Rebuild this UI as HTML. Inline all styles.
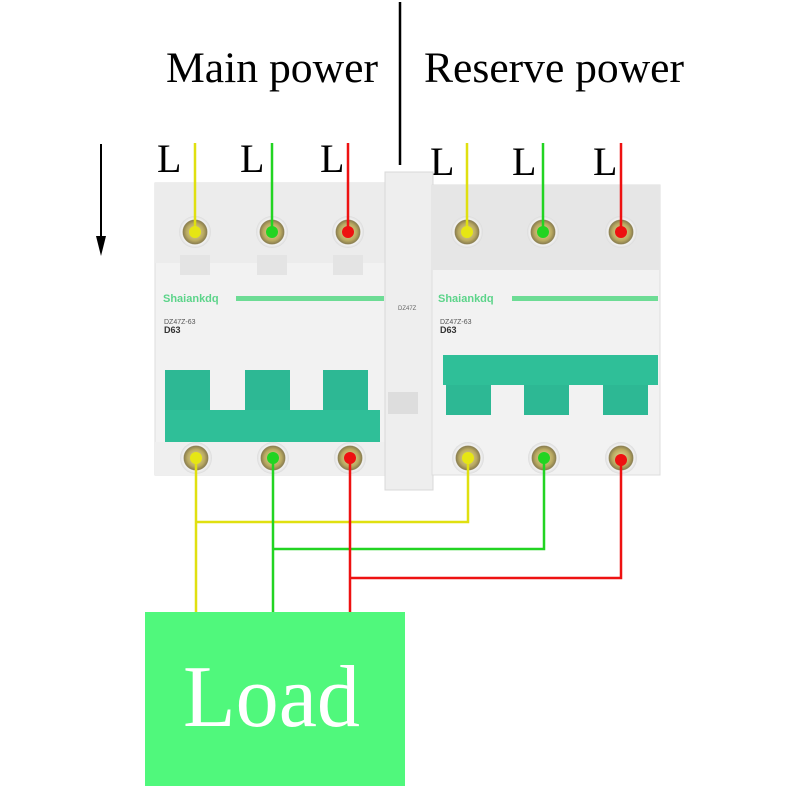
<!DOCTYPE html>
<html><head><style>html,body{margin:0;padding:0;background:#fff}svg{display:block}</style></head>
<body>
<svg width="800" height="800" viewBox="0 0 800 800" xmlns="http://www.w3.org/2000/svg" font-family="'Liberation Serif', serif">
<defs>
<radialGradient id="scr"><stop offset="0" stop-color="#e8e0a0"/><stop offset="0.55" stop-color="#b8a860"/><stop offset="0.75" stop-color="#8a7e50"/><stop offset="0.8" stop-color="#f4f4f4"/><stop offset="1" stop-color="#dcdcdc"/></radialGradient>
</defs>
<text x="166" y="82" font-size="43" fill="#000" textLength="212" lengthAdjust="spacingAndGlyphs">Main power</text>
<text x="424" y="82" font-size="43" fill="#000" textLength="260" lengthAdjust="spacingAndGlyphs">Reserve power</text>
<line x1="400" y1="2" x2="400" y2="165" stroke="#000" stroke-width="2.5"/>
<line x1="101" y1="144" x2="101" y2="240" stroke="#000" stroke-width="2"/>
<polygon points="96,236 106,236 101,256" fill="#000"/>
<g font-size="40" fill="#000">
<text x="157" y="172">L</text><text x="240" y="172">L</text><text x="320" y="172">L</text>
<text x="430" y="175">L</text><text x="512" y="175">L</text><text x="593" y="175">L</text>
</g>
<!-- left breaker -->
<rect x="155" y="183" width="232" height="292" fill="#f2f2f2" stroke="#ddd"/>
<rect x="155" y="183" width="232" height="80" fill="#ececec"/>
<rect x="180" y="255" width="30" height="20" fill="#e4e4e4"/><rect x="257" y="255" width="30" height="20" fill="#e4e4e4"/><rect x="333" y="255" width="30" height="20" fill="#e4e4e4"/>
<text x="163" y="302" font-family="'Liberation Sans',sans-serif" font-size="11" font-weight="bold" fill="#5cd48a">Shaiankdq</text>
<rect x="236" y="296" width="148" height="5" fill="#6ddc95"/>
<text x="164" y="324" font-family="'Liberation Sans',sans-serif" font-size="7" fill="#555">DZ47Z-63</text>
<text x="164" y="333" font-family="'Liberation Sans',sans-serif" font-size="9" font-weight="bold" fill="#333">D63</text>
<rect x="165" y="370" width="45" height="45" fill="#2db894"/><rect x="245" y="370" width="45" height="45" fill="#2db894"/><rect x="323" y="370" width="45" height="45" fill="#2db894"/>
<rect x="165" y="410" width="215" height="33" fill="#2fbf98"/>
<rect x="155" y="442" width="232" height="33" fill="#efefef"/>
<!-- middle -->
<rect x="385" y="172" width="48" height="318" fill="#eeeeee" stroke="#d8d8d8"/>
<rect x="388" y="392" width="30" height="22" fill="#ddd"/>
<text x="398" y="310" font-family="'Liberation Sans',sans-serif" font-size="6" fill="#666">DZ47Z</text>
<!-- right breaker -->
<rect x="432" y="185" width="228" height="290" fill="#f2f2f2" stroke="#ddd"/>
<rect x="432" y="185" width="228" height="85" fill="#e6e6e6"/>
<text x="438" y="302" font-family="'Liberation Sans',sans-serif" font-size="11" font-weight="bold" fill="#5cd48a">Shaiankdq</text>
<rect x="512" y="296" width="146" height="5" fill="#6ddc95"/>
<text x="440" y="324" font-family="'Liberation Sans',sans-serif" font-size="7" fill="#555">DZ47Z-63</text>
<text x="440" y="333" font-family="'Liberation Sans',sans-serif" font-size="9" font-weight="bold" fill="#333">D63</text>
<rect x="443" y="355" width="215" height="30" fill="#2fbf98"/>
<rect x="446" y="385" width="45" height="30" fill="#2db894"/><rect x="524" y="385" width="45" height="30" fill="#2db894"/><rect x="603" y="385" width="45" height="30" fill="#2db894"/>
<!-- terminals -->
<g>
<circle cx="195" cy="232" r="16" fill="url(#scr)"/><circle cx="272" cy="232" r="16" fill="url(#scr)"/><circle cx="348" cy="232" r="16" fill="url(#scr)"/>
<circle cx="467" cy="232" r="16" fill="url(#scr)"/><circle cx="543" cy="232" r="16" fill="url(#scr)"/><circle cx="621" cy="232" r="16" fill="url(#scr)"/>
<circle cx="196" cy="458" r="16" fill="url(#scr)"/><circle cx="273" cy="458" r="16" fill="url(#scr)"/><circle cx="350" cy="458" r="16" fill="url(#scr)"/>
<circle cx="468" cy="458" r="16" fill="url(#scr)"/><circle cx="544" cy="458" r="16" fill="url(#scr)"/><circle cx="621" cy="458" r="16" fill="url(#scr)"/>
</g>
<g stroke-width="2.5" fill="none">
<polyline points="195,143 195,232" stroke="#e0e010"/><polyline points="272,143 272,232" stroke="#22d422"/><polyline points="348,143 348,232" stroke="#ee1111"/>
<polyline points="467,143 467,232" stroke="#e0e010"/><polyline points="543,143 543,232" stroke="#22d422"/><polyline points="621,143 621,232" stroke="#ee1111"/>
<polyline points="196,458 196,612" stroke="#e0e010"/><polyline points="196,522 468,522 468,458" stroke="#e0e010"/>
<polyline points="273,458 273,612" stroke="#22d422"/><polyline points="273,549 544,549 544,458" stroke="#22d422"/>
<polyline points="350,458 350,612" stroke="#ee1111"/><polyline points="350,578 621,578 621,458" stroke="#ee1111"/>
</g>
<g>
<circle cx="195" cy="232" r="6" fill="#e6e614"/><circle cx="272" cy="232" r="6" fill="#22d422"/><circle cx="348" cy="232" r="6" fill="#ee1111"/>
<circle cx="467" cy="232" r="6" fill="#e6e614"/><circle cx="543" cy="232" r="6" fill="#22d422"/><circle cx="621" cy="232" r="6" fill="#ee1111"/>
<circle cx="196" cy="458" r="6" fill="#e6e614"/><circle cx="273" cy="458" r="6" fill="#22d422"/><circle cx="350" cy="458" r="6" fill="#ee1111"/>
<circle cx="468" cy="458" r="6" fill="#e6e614"/><circle cx="544" cy="458" r="6" fill="#22d422"/><circle cx="621" cy="460" r="6" fill="#ee1111"/>
</g>
<rect x="145" y="612" width="260" height="174" fill="#50f87c"/>
<text x="183" y="726" font-size="88" fill="#fff" textLength="177" lengthAdjust="spacingAndGlyphs">Load</text>
</svg>
</body></html>
